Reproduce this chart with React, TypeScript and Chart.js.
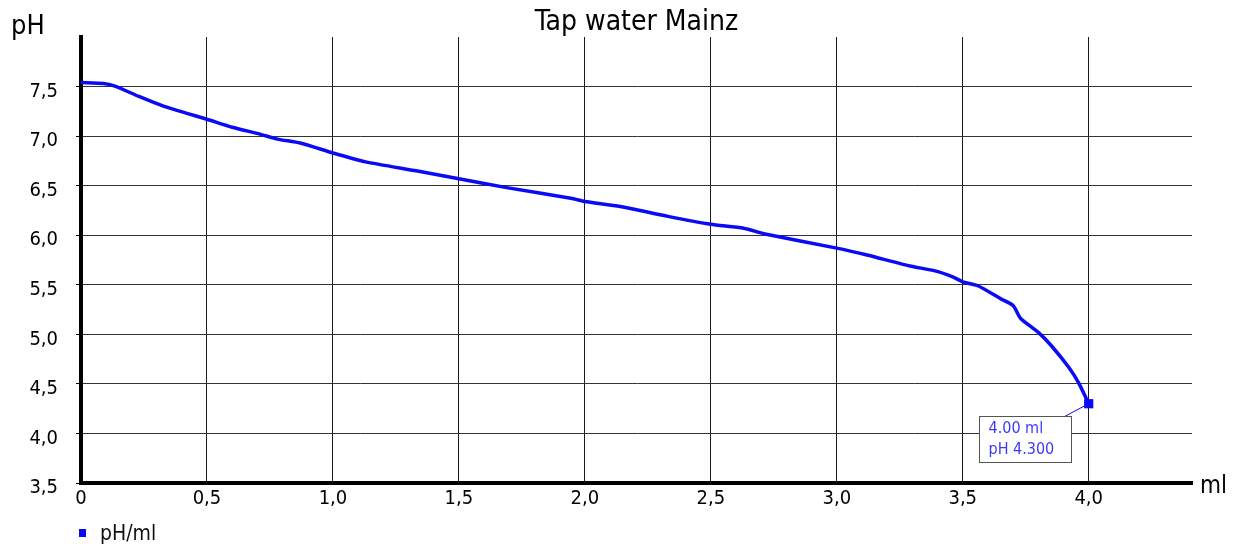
import { useEffect, useRef } from 'react';
import { Chart, registerables } from 'chart.js';

Chart.register(...registerables);

const FONT = "'DejaVu Sans Condensed', 'Liberation Sans', sans-serif";

const chartTitle = 'Tap water Mainz';
const yAxisTitle = 'pH';
const xAxisTitle = 'ml';
const seriesName = 'pH/ml';

const volumeMl = [
  0.0, 0.09, 0.14, 0.23, 0.33, 0.42, 0.5, 0.6, 0.71, 0.78, 0.87, 1.0, 1.13, 1.33, 1.5, 1.69,
  1.95, 2.0, 2.14, 2.33, 2.5, 2.63, 2.72, 3.0, 3.12, 3.29, 3.39, 3.46, 3.5, 3.56, 3.65, 3.7,
  3.73, 3.8, 3.85, 3.92, 3.96, 4.0,
];
const phValues = [
  7.54, 7.53, 7.5, 7.4, 7.3, 7.23, 7.17, 7.09, 7.02, 6.97, 6.93, 6.83, 6.74, 6.65, 6.57, 6.48,
  6.37, 6.34, 6.29, 6.19, 6.11, 6.07, 6.01, 5.87, 5.8, 5.69, 5.64, 5.58, 5.53, 5.49, 5.36, 5.29,
  5.16, 5.02, 4.89, 4.67, 4.51, 4.3,
];

const xTickValues = [0, 0.5, 1.0, 1.5, 2.0, 2.5, 3.0, 3.5, 4.0];
const yTickValues = [3.5, 4.0, 4.5, 5.0, 5.5, 6.0, 6.5, 7.0, 7.5];

const LINE_COLOR = '#0a0af5';

const fmtComma = (v: number) => (v === 0 ? '0' : v.toFixed(1).replace('.', ','));

const extras = {
  id: 'extras',
  afterDraw(chart: any) {
    const ctx = chart.ctx as CanvasRenderingContext2D;
    const { left, bottom, right } = chart.chartArea;
    ctx.save();
    ctx.textAlign = 'left';
    ctx.textBaseline = 'alphabetic';
    ctx.fillStyle = '#000';
    ctx.font = `27px ${FONT}`;
    ctx.fillText(yAxisTitle, 11, 34);
    ctx.font = `24px ${FONT}`;
    ctx.fillText(xAxisTitle, right + 8, bottom + 10);

    // legend
    ctx.fillStyle = LINE_COLOR;
    ctx.fillRect(left - 2, bottom + 46, 7, 8);
    ctx.fillStyle = '#111';
    ctx.font = `21px ${FONT}`;
    ctx.fillText(seriesName, left + 19, bottom + 57);

    // annotation of last point
    const meta = chart.getDatasetMeta(0);
    const last = meta.data.length - 1;
    const pt = meta.data[last];
    const px = pt.x;
    const py = pt.y;
    const bx = Math.round(px - 110) + 0.5;
    const by = Math.round(py + 12.5) + 0.5;
    const bw = 92;
    const bh = 46;
    ctx.strokeStyle = LINE_COLOR;
    ctx.lineWidth = 1;
    ctx.beginPath();
    ctx.moveTo(px, py);
    ctx.lineTo(bx + 85, by);
    ctx.stroke();
    ctx.fillStyle = '#fff';
    ctx.fillRect(bx, by, bw, bh);
    ctx.strokeStyle = '#555';
    ctx.strokeRect(bx, by, bw, bh);
    ctx.fillStyle = '#3a3aff';
    ctx.font = `16px ${FONT}`;
    ctx.textBaseline = 'middle';
    ctx.fillText(`${volumeMl[last].toFixed(2)} ml`, bx + 9, by + 12);
    ctx.fillText(`pH ${phValues[last].toFixed(3)}`, bx + 9, by + 33);
    ctx.restore();
  },
};

export default function App() {
  const ref = useRef<HTMLCanvasElement | null>(null);

  useEffect(() => {
    if (!ref.current) return;
    const last = volumeMl.length - 1;
    const chart = new Chart(ref.current, {
      type: 'line',
      data: {
        datasets: [
          {
            label: seriesName,
            data: volumeMl.map((x, i) => ({ x, y: phValues[i] })),
            borderColor: LINE_COLOR,
            backgroundColor: LINE_COLOR,
            borderWidth: 3.5,
            tension: 0.2,
            pointStyle: 'rect',
            pointRadius: volumeMl.map((_, i) => (i === last ? 6.5 : 0)),
            pointBorderWidth: 0,
            pointHoverRadius: 0,
          },
        ],
      },
      options: {
        responsive: false,
        animation: false,
        layout: { padding: { left: 0, right: 47, top: 0, bottom: 0 } },
        plugins: {
          legend: { display: false },
          tooltip: { enabled: false },
          title: {
            display: true,
            fullSize: false,
            text: chartTitle,
            color: '#000',
            font: { family: FONT, size: 28, weight: 'normal', lineHeight: 1 },
            padding: { top: 9, bottom: 0 },
          },
        },
        scales: {
          x: {
            type: 'linear',
            min: 0,
            max: 4.41,
            afterBuildTicks: (s: any) => {
              s.ticks = xTickValues.map((v) => ({ value: v }));
            },
            afterFit: (s: any) => {
              s.height = 67;
            },
            ticks: {
              color: '#000',
              font: { family: FONT, size: 20 },
              padding: 4,
              maxRotation: 0,
              autoSkip: false,
              callback: (v: any) => fmtComma(Number(v)),
            },
            grid: { color: '#1a1a1a', lineWidth: 1, drawTicks: false },
            border: { display: true, color: '#000', width: 4 },
          },
          y: {
            type: 'linear',
            min: 3.5,
            max: 8.0,
            afterBuildTicks: (s: any) => {
              s.ticks = yTickValues.map((v) => ({ value: v }));
            },
            afterFit: (s: any) => {
              s.width = 81;
            },
            ticks: {
              color: '#000',
              font: { family: FONT, size: 20 },
              padding: 18,
              labelOffset: 5,
              autoSkip: false,
              callback: (v: any) => Number(v).toFixed(1).replace('.', ','),
            },
            grid: { color: '#333', lineWidth: 1, drawTicks: true, tickLength: 5, tickColor: '#000' },
            border: { display: true, color: '#000', width: 4 },
          },
        },
      },
      plugins: [extras],
    });
    return () => chart.destroy();
  }, []);

  return (
    <div style={{ position: 'absolute', left: 0, top: 0, width: 1239, height: 550, background: '#fff' }}>
      <canvas ref={ref} width={1239} height={550} />
    </div>
  );
}
